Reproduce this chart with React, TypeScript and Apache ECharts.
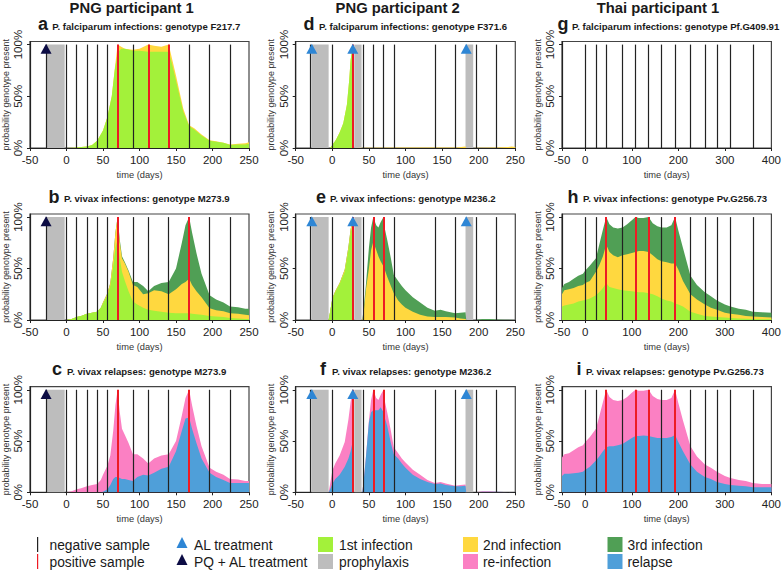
import React, { useEffect, useRef } from "react";
import * as echarts from "echarts";

const FONT = "Liberation Sans";
const GREEN = "#a3f13a";
const YELLOW = "#ffd83f";
const DARK_GREEN = "#509f55";
const PINK = "#fb80c3";
const BLUE = "#4f9fd9";
const GRAY = "#bdbdbd";
const RED = "#ee1b24";
const BLACK = "#222222";
const NAVY = "#0c0c44";
const TRI_BLUE = "#2e86d5";

const headings = ["PNG participant 1", "PNG participant 2", "Thai participant 1"];
const yTicks = [0, 50, 100];
const xTicks250 = [-50, 0, 50, 100, 150, 200, 250];
const xTicks400 = [-50, 0, 100, 200, 300, 400];

// sample days
const blackA = [-28, 0, 14, 28, 42, 56, 91, 168, 196, 224];
const redA = [70, 112, 140];
const blackB = [-28, 0, 14, 28, 42, 56, 91, 112, 140, 196, 224];
const redB = [70, 168];
const blackD = [-30, 0, 42, 56, 70, 84, 140, 168, 196, 224];
const redD = [28];
const blackE = [-30, 0, 42, 84, 140, 168, 196, 224];
const redE = [28, 56, 70];
const blackG = [0, 23, 45, 80, 108, 136, 164, 193, 226, 257, 283, 312, 360];
const blackH = [0, 23, 80, 164, 226, 257, 283, 312, 360];
const redH = [45, 108, 136, 193];

// prophylaxis spans and treatments
const grayP1 = [[-27, -2.5]];
const grayP2 = [[-28.5, -5], [30, 40], [182, 192.5]];
const treatP1 = [-28];
const treatP2 = [-28, 28, 183];

// a, tops of the layers
const daysA = [0, 10, 20, 28, 35, 42, 50, 56, 62, 66, 70, 75, 80, 91, 100, 112, 120, 130, 140, 145, 150, 155, 160, 168, 175, 185, 196, 205, 215, 224, 235, 245, 250];
const greenA = [0, 0.3, 1, 1.5, 3, 7, 17, 30, 50, 75, 92, 96, 96, 94, 94, 93, 93, 93, 93, 80, 65, 50, 35, 21, 18, 12, 7, 6, 5, 3, 3.5, 3.5, 4];
const yellowA = [0, 0.3, 1, 1.5, 3, 7, 17, 30, 50, 76, 100, 98, 96, 95, 96, 100, 99, 98, 100, 85, 70, 54, 38, 22, 19, 13, 7.5, 6.5, 5, 3.5, 4, 4.5, 5.5];

// b and c
const daysB = [0, 7, 14, 20, 28, 35, 42, 47, 50, 56, 60, 64, 67, 70, 73, 76, 80, 85, 91, 97, 105, 112, 120, 130, 140, 150, 158, 163, 168, 172, 178, 185, 196, 205, 215, 224, 235, 245, 250];
const greenB = [0, 1, 3, 4, 6, 7, 8, 12, 16, 24, 33, 52, 70, 78, 60, 47, 38, 28, 18, 15, 12, 10, 9, 8, 7, 6.5, 6.5, 6.5, 6.5, 6, 5.5, 5, 4, 3.5, 3, 2, 1.5, 1, 1];
const yellowB = [0, 1, 3, 4, 6, 7, 8, 12, 17, 26, 36, 60, 85, 100, 75, 60, 55, 47, 34, 32, 25, 26, 29, 28, 25, 30, 35, 37, 40, 34, 28, 22, 11.5, 9.5, 8.5, 6.5, 6, 5, 4.5];
const darkB = [0, 1, 3, 4, 6, 7, 8, 12, 17, 26, 36, 60, 85, 100, 78, 62, 56, 48, 37, 37, 33, 28, 33, 36, 37, 50, 75, 92, 100, 85, 65, 45, 24, 20, 17, 13, 12.5, 11, 11];
const blueC = [0, 0, 0, 0, 0, 0, 0, 0, 0.5, 3, 7, 13, 15, 15, 14, 13, 13, 12, 11, 15, 17, 16.5, 19, 23, 25, 40, 60, 72, 73, 62, 48, 33, 19, 15, 12, 9, 9, 9, 9];

// d
const daysD = [-3, 0, 5, 10, 15, 20, 23, 25, 28, 29, 42, 100, 170, 176, 182, 183, 193, 196, 224, 240, 245, 250];
const greenD = [0, 3, 8, 15, 24, 42, 65, 85, 99, 0, 0, 0, 0, 0, 0, 0, 0, 0, 0, 0, 0, 0];
const yellowD = [0, 3, 8, 15, 24, 42, 65, 85, 100, 0, 0.3, 0.4, 0.5, 1, 1.5, 0, 0, 0.3, 0.4, 1, 1.5, 1];

// e and f
const daysE = [-5, -3, 0, 4, 10, 17, 22, 25, 28, 29, 41, 43, 46, 50, 53, 56, 58, 60, 63, 66, 70, 72, 75, 80, 84, 90, 95, 100, 110, 120, 130, 140, 148, 155, 168, 175, 182, 183, 196, 205, 215, 224, 235, 250];
const greenE = [0, 8, 20, 27, 35, 47, 68, 85, 92, 0, 0, 0, 0, 0, 0, 0, 0, 0, 0, 0, 0, 0, 0, 0, 0, 0, 0, 0, 0, 0, 0, 0, 0, 0, 0, 0, 0, 0, 0, 0, 0, 0, 0, 0];
const yellowE = [0, 8, 21, 28, 36, 49, 71, 88, 100, 0, 0, 8, 30, 50, 68, 76, 72, 68, 62, 57, 52, 48, 42, 33, 26, 19, 15, 12, 8, 5, 3.5, 3, 3, 3, 2.5, 1.5, 1, 0, 0, 0, 0, 0, 0, 0];
const darkE = [0, 8, 21, 28, 36, 49, 71, 88, 100, 0, 0, 12, 35, 70, 90, 100, 96, 92, 90, 95, 100, 88, 78, 60, 44, 38, 33, 29, 22, 17, 12, 9, 10, 8.5, 6.5, 7, 7.5, 0, 0, 1, 1, 0.5, 0.3, 0];
const blueF = [0, 3, 8, 13, 17, 25, 33, 40, 50, 0, 0, 12, 35, 68, 78, 80, 80, 80, 80, 83, 78, 72, 65, 48, 37, 33, 28, 24, 17, 13, 10, 8, 8.5, 7, 6, 6, 6.5, 0, 0, 0.5, 0.5, 0.5, 0.3, 0];

// h and i
const daysH = [-50, -45, -35, -25, -15, -5, 0, 10, 23, 30, 38, 45, 52, 60, 70, 80, 90, 100, 108, 115, 125, 136, 145, 155, 164, 175, 185, 193, 200, 210, 226, 240, 257, 270, 283, 300, 312, 330, 345, 360, 380, 400];
const greenH = [13, 14, 15, 16, 18, 19, 19.5, 21, 24, 27, 31, 36, 32, 31, 30, 29, 28.5, 28, 27.5, 27, 27, 26, 25, 23, 21, 19, 18, 16, 15, 13, 8, 6, 4, 3.5, 3, 2.5, 2, 1.5, 1.2, 1, 0.8, 0.7];
const yellowH = [25, 29, 30, 31, 33, 34, 36, 38, 47, 53, 62, 73, 66, 63, 61, 63, 64, 65, 66, 67, 67, 66, 63, 59, 57, 56, 55, 55, 49, 38, 25, 20, 15, 12, 10, 7, 6, 5, 4, 3.5, 3, 2.5];
const darkH = [31, 35, 37, 40, 43, 45, 48, 53, 60, 73, 88, 100, 93, 90, 89, 90, 93, 97, 100, 99, 99, 100, 94, 91, 90, 90, 92, 100, 87, 70, 43, 34, 27, 23, 19, 15, 13, 11, 10, 8, 7.5, 7];
const pinkI = [34, 37, 38, 41, 44, 46, 49, 54, 62, 74, 88, 100, 93, 90, 89, 90, 93, 97, 100, 99, 99, 100, 94, 91, 90, 90, 92, 100, 87, 70, 45, 35, 27, 24, 20, 16, 14, 12, 11, 9, 8, 8];
const blueI = [16, 18, 18, 18.5, 19, 20, 22, 25, 31, 35, 40, 44, 45, 45, 46, 47, 50, 53, 55, 55, 55.5, 55, 54, 53, 53, 53, 54, 56, 49, 40, 27, 20, 15, 13, 10, 8, 7, 6.5, 6, 5, 5, 5];

const lefts = [29.3, 295.7, 562];
const widths = [219.7, 219.6, 212.7];
const tops = [41.5, 214, 386.7];
const heights = [106.5, 106, 105.6];

type Panel = {
  col: number; row: number; letter: string; title: string;
  letterX: number; titleX: number;
  xMax: number; xTicks: number[]; black: number[]; red: number[];
  gray: number[][]; treat: number[]; treatColor: string;
  days: number[]; layers: [string, number[]][];
};

const panels: Panel[] = [
  { col: 0, row: 0, letter: "a", title: "P. falciparum infections: genotype F217.7", letterX: 43, titleX: 52.3, xMax: 250, xTicks: xTicks250, black: blackA, red: redA, gray: grayP1, treat: treatP1, treatColor: NAVY, days: daysA, layers: [[YELLOW, yellowA], [GREEN, greenA]] },
  { col: 0, row: 1, letter: "b", title: "P. vivax infections: genotype M273.9", letterX: 54, titleX: 64, xMax: 250, xTicks: xTicks250, black: blackB, red: redB, gray: grayP1, treat: treatP1, treatColor: NAVY, days: daysB, layers: [[DARK_GREEN, darkB], [YELLOW, yellowB], [GREEN, greenB]] },
  { col: 0, row: 2, letter: "c", title: "P. vivax relapses: genotype M273.9", letterX: 57, titleX: 67, xMax: 250, xTicks: xTicks250, black: blackB, red: redB, gray: grayP1, treat: treatP1, treatColor: NAVY, days: daysB, layers: [[PINK, darkB], [BLUE, blueC]] },
  { col: 1, row: 0, letter: "d", title: "P. falciparum infections: genotype F371.6", letterX: 309, titleX: 319, xMax: 250, xTicks: xTicks250, black: blackD, red: redD, gray: grayP2, treat: treatP2, treatColor: TRI_BLUE, days: daysD, layers: [[YELLOW, yellowD], [GREEN, greenD]] },
  { col: 1, row: 1, letter: "e", title: "P. vivax infections: genotype M236.2", letterX: 321, titleX: 330, xMax: 250, xTicks: xTicks250, black: blackE, red: redE, gray: grayP2, treat: treatP2, treatColor: TRI_BLUE, days: daysE, layers: [[DARK_GREEN, darkE], [YELLOW, yellowE], [GREEN, greenE]] },
  { col: 1, row: 2, letter: "f", title: "P. vivax relapses: genotype M236.2", letterX: 323, titleX: 332, xMax: 250, xTicks: xTicks250, black: blackE, red: redE, gray: grayP2, treat: treatP2, treatColor: TRI_BLUE, days: daysE, layers: [[PINK, darkE], [BLUE, blueF]] },
  { col: 2, row: 0, letter: "g", title: "P. falciparum infections: genotype Pf.G409.91", letterX: 563, titleX: 572, xMax: 400, xTicks: xTicks400, black: blackG, red: [], gray: [], treat: [], treatColor: NAVY, days: [], layers: [] },
  { col: 2, row: 1, letter: "h", title: "P. vivax infections: genotype Pv.G256.73", letterX: 573, titleX: 583, xMax: 400, xTicks: xTicks400, black: blackH, red: redH, gray: [], treat: [], treatColor: NAVY, days: daysH, layers: [[DARK_GREEN, darkH], [YELLOW, yellowH], [GREEN, greenH]] },
  { col: 2, row: 2, letter: "i", title: "P. vivax relapses: genotype Pv.G256.73", letterX: 579, titleX: 586, xMax: 400, xTicks: xTicks400, black: blackH, red: redH, gray: [], treat: [], treatColor: NAVY, days: daysH, layers: [[PINK, pinkI], [BLUE, blueI]] },
];

const txt = (text: string, x: number, y: number, fontSize: number, fontWeight = "normal", align = "left") => ({
  type: "text", x, y, silent: true,
  style: { text, fontSize, fontWeight, fontFamily: FONT, fill: "#1a1a1a", align, verticalAlign: "middle" },
});

const rect = (x: number, y: number, w: number, h: number, fill: string) => ({
  type: "rect", silent: true, shape: { x, y, width: w, height: h }, style: { fill },
});

const tri = (x: number, y: number, fill: string) => ({
  type: "polygon", silent: true,
  shape: { points: [[x, y - 6], [x - 5.5, y + 5], [x + 5.5, y + 5]] }, style: { fill },
});

function buildOption() {
  const grid: any[] = [];
  const xAxis: any[] = [];
  const yAxis: any[] = [];
  const series: any[] = [];
  const graphic: any[] = [];

  headings.forEach((h, i) => graphic.push(txt(h, [131.7, 397.7, 658][i], 8, 14.8, "bold", "center")));

  panels.forEach((p, i) => {
    grid.push({
      left: lefts[p.col], top: tops[p.row], width: widths[p.col], height: heights[p.row],
      show: true, borderColor: "#444", borderWidth: 1.2, backgroundColor: "#fff",
    });
    xAxis.push({
      type: "value", gridIndex: i, min: -50, max: p.xMax,
      name: "time (days)", nameLocation: "middle", nameGap: 22,
      nameTextStyle: { fontFamily: FONT, fontSize: 9.3, color: "#333" },
      splitLine: { show: false },
      axisLine: { show: true, onZero: false, lineStyle: { color: "#222", width: 1.2 } },
      axisTick: { show: true, length: 3, customValues: p.xTicks, lineStyle: { color: "#222" } },
      axisLabel: { customValues: p.xTicks, margin: 6, fontFamily: FONT, fontSize: 11.5, color: "#222" },
    });
    yAxis.push({
      type: "value", gridIndex: i, min: 0, max: 103,
      name: "probability genotype present", nameLocation: "middle", nameGap: 20, nameRotate: 90,
      nameTextStyle: { fontFamily: FONT, fontSize: 8.9, color: "#333" },
      splitLine: { show: false },
      axisLine: { show: true, onZero: false, lineStyle: { color: "#222", width: 1.2 } },
      axisTick: { show: true, length: 3, customValues: yTicks, lineStyle: { color: "#222" } },
      axisLabel: { customValues: yTicks, rotate: 90, margin: 6, fontFamily: FONT, fontSize: 11.5, color: "#222", formatter: (v: number) => v + "%" },
    });

    const base = { xAxisIndex: i, yAxisIndex: i, silent: true, symbol: "none" };
    // prophylaxis behind everything
    series.push({
      ...base, type: "line", data: [], z: 1,
      markArea: {
        silent: true, itemStyle: { color: GRAY, opacity: 1 },
        data: p.gray.map(([a, b]) => [{ coord: [a, 0] }, { coord: [b, 100] }]),
      },
    });
    p.layers.forEach(([color, values]) => {
      series.push({
        ...base, type: "line", z: 2, lineStyle: { width: 0 }, areaStyle: { color, opacity: 1 },
        data: p.days.map((d, k) => [d, values[k]]),
      });
    });
    const marks = (days: number[], color: string, width: number, z: number) => ({
      ...base, type: "line", data: [], z,
      markLine: {
        silent: true, symbol: ["none", "none"], label: { show: false }, z,
        lineStyle: { color, width, type: "solid", opacity: 1 },
        data: days.map((d) => [{ coord: [d, 0] }, { coord: [d, 100] }]),
      },
    });
    series.push(marks(p.black, BLACK, 1.2, 3));
    series.push(marks(p.red, RED, 2, 4));
    if (p.treat.length) {
      series.push({
        ...base, type: "scatter", z: 5, symbol: "triangle", symbolSize: [11, 10],
        itemStyle: { color: p.treatColor, opacity: 1 },
        data: p.treat.map((d) => [d, 96]),
      });
    }
    const cy = tops[p.row] - 16.5;
    graphic.push(txt(p.letter, p.letterX, cy - 1, 18, "bold", "center"));
    graphic.push(txt(p.title, p.titleX, cy + 1, 9.6, "bold"));
  });

  // legend
  const y1 = 545;
  const y2 = 562;
  const legendSize = 13.8;
  graphic.push(rect(37, 537, 1.2, 15, BLACK), rect(37, 554, 1.2, 15, RED));
  graphic.push(txt("negative sample", 49.5, y1, legendSize), txt("positive sample", 49.5, y2, legendSize));
  graphic.push(tri(182, 543, TRI_BLUE), tri(182, 560, NAVY));
  graphic.push(txt("AL treatment", 194, y1, legendSize), txt("PQ + AL treatment", 194, y2, legendSize));
  graphic.push(rect(318, 537, 15, 15, GREEN), rect(318, 554, 15, 15, GRAY));
  graphic.push(txt("1st infection", 339, y1, legendSize), txt("prophylaxis", 339, y2, legendSize));
  graphic.push(rect(463, 537, 15, 15, YELLOW), rect(463, 554, 15, 15, PINK));
  graphic.push(txt("2nd infection", 483, y1, legendSize), txt("re-infection", 483, y2, legendSize));
  graphic.push(rect(607.5, 537, 15, 15, DARK_GREEN), rect(607.5, 554, 15, 15, BLUE));
  graphic.push(txt("3rd infection", 627.5, y1, legendSize), txt("relapse", 627.5, y2, legendSize));

  return { animation: false, backgroundColor: "#fff", grid, xAxis, yAxis, series, graphic };
}

const App: React.FC = () => {
  const chartRef = useRef<HTMLDivElement>(null);

  useEffect(() => {
    const chart = echarts.init(chartRef.current!, undefined, { renderer: "svg" });
    chart.setOption(buildOption() as any);
    return () => {
      chart.dispose();
    };
  }, []);

  return <div ref={chartRef} style={{ position: "fixed", left: 0, top: 0, width: 784, height: 570 }} />;
};

export default App;
